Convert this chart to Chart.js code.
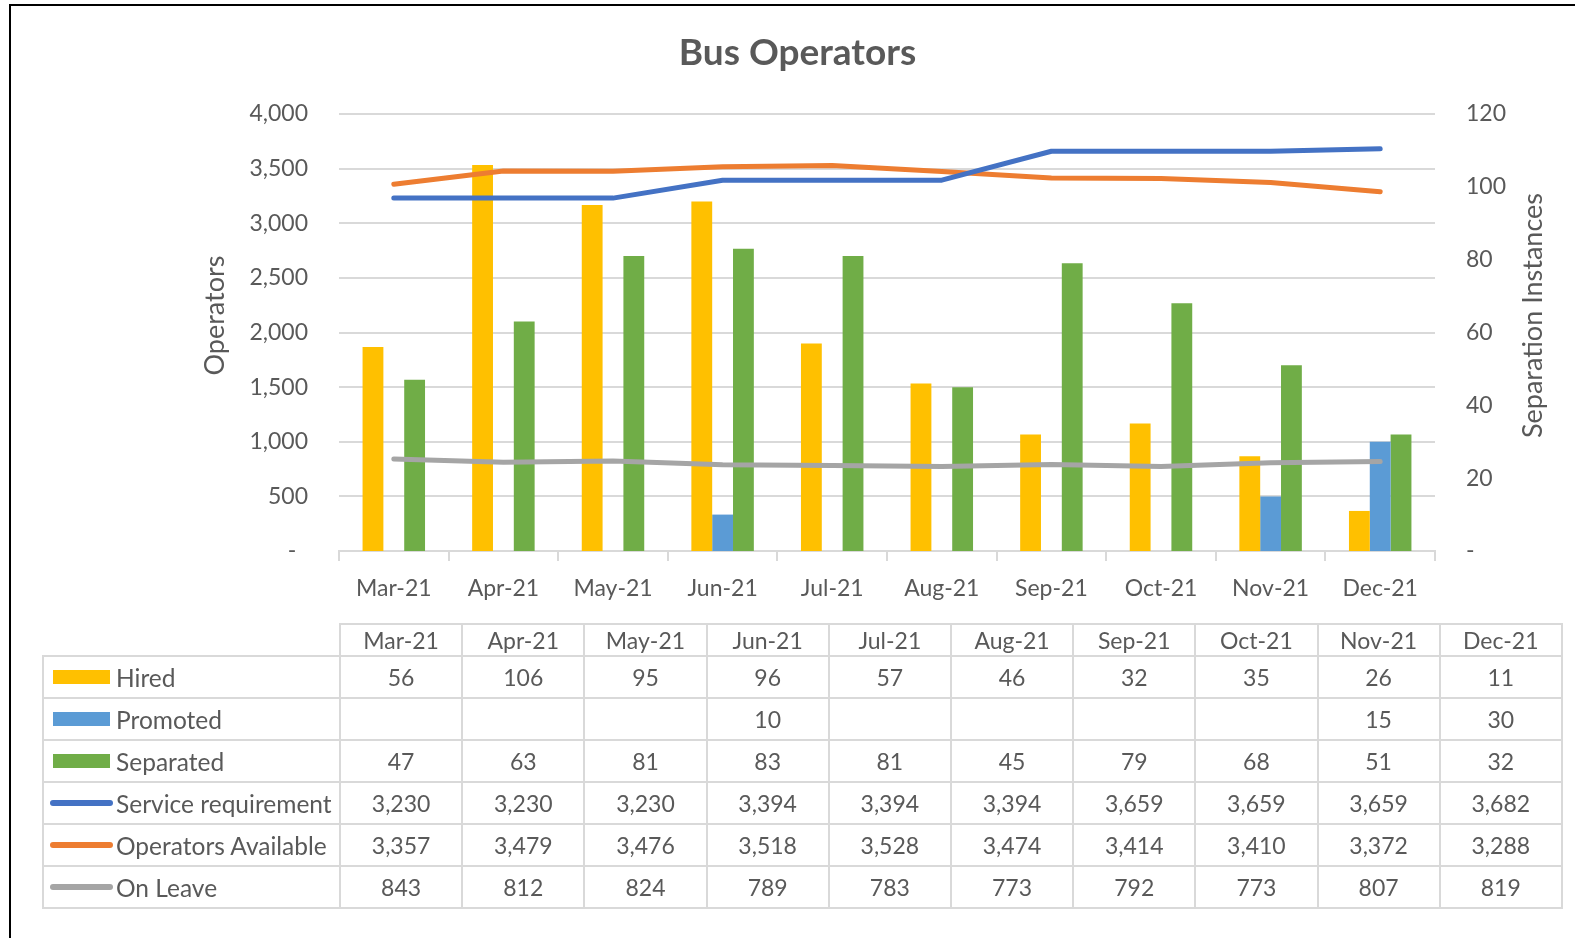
<!DOCTYPE html>
<html>
<head>
<meta charset="utf-8">
<title>Bus Operators</title>
<script src="https://cdn.jsdelivr.net/npm/chart.js@4.4.1/dist/chart.umd.min.js"></script>
<style>
  body { margin: 0; background: #fff; font-family: Lato, sans-serif; }
  #wrap { position: relative; width: 1575px; height: 938px; overflow: hidden; background: #fff; }
  #frame { position: absolute; left: 9px; top: 4px; right: -10px; bottom: -10px;
           border-left: 2px solid #000; border-top: 2px solid #000; pointer-events: none; }
  #chart { position: absolute; left: 0; top: 0; }
  #tbl { position: absolute; left: 42px; top: 623px; border-collapse: collapse;
         table-layout: fixed; color: #595959; font-size: 23px; }
  #tbl td { border: 2px solid #d9d9d9; text-align: center; padding: 0; white-space: nowrap; }
  #tbl tr { height: 42px; }
  #tbl tr.head { height: 32px; }
  #tbl td.blank { border-top: none; border-left: none; }
  #tbl td.name { text-align: left; font-size: 24.5px; }
  .cell { display: flex; align-items: center; }
  .sw-bar { width: 57px; height: 14px; margin: 0 6px 0 9px; }
  .sw-line { width: 63px; height: 6px; border-radius: 3px; margin: 0 3px 0 6px; }
</style>
</head>
<body>
<div id="wrap">
  <canvas id="chart" width="1575" height="938"></canvas>
  <table id="tbl"></table>
  <div id="frame"></div>
</div>
<script>
// data
const months = ['Mar-21', 'Apr-21', 'May-21', 'Jun-21', 'Jul-21', 'Aug-21', 'Sep-21', 'Oct-21', 'Nov-21', 'Dec-21'];
const hired = [56, 106, 95, 96, 57, 46, 32, 35, 26, 11];
const promoted = [null, null, null, 10, null, null, null, null, 15, 30];
const separated = [47, 63, 81, 83, 81, 45, 79, 68, 51, 32];
const serviceReq = [3230, 3230, 3230, 3394, 3394, 3394, 3659, 3659, 3659, 3682];
const available = [3357, 3479, 3476, 3518, 3528, 3474, 3414, 3410, 3372, 3288];
const onLeave = [843, 812, 824, 789, 783, 773, 792, 773, 807, 819];

const textColor = '#595959';
const gridColor = '#d9d9d9';

// rows of the data table and series of the chart
const series = [
  { label: 'Hired', data: hired, color: '#FFC000', kind: 'bar' },
  { label: 'Promoted', data: promoted, color: '#5B9BD5', kind: 'bar' },
  { label: 'Separated', data: separated, color: '#70AD47', kind: 'bar' },
  { label: 'Service requirement', data: serviceReq, color: '#4472C4', kind: 'line' },
  { label: 'Operators Available', data: available, color: '#ED7D31', kind: 'line' },
  { label: 'On Leave', data: onLeave, color: '#A5A5A5', kind: 'line' }
];

const fmt = v => (v === null || v === undefined) ? '' : v.toLocaleString('en-US');

// build the table under the chart
function buildTable() {
  const tbl = document.getElementById('tbl');
  let html = '<colgroup><col style="width:297px">';
  months.forEach(() => { html += '<col style="width:122.2px">'; });
  html += '</colgroup><tr class="head"><td class="blank"></td>';
  months.forEach(m => { html += '<td>' + m + '</td>'; });
  html += '</tr>';
  series.forEach(s => {
    const sw = s.kind === 'bar' ? 'sw-bar' : 'sw-line';
    html += '<tr><td class="name"><div class="cell"><span class="' + sw + '" style="background:' + s.color + '"></span>' + s.label + '</div></td>';
    s.data.forEach(v => { html += '<td>' + fmt(v) + '</td>'; });
    html += '</tr>';
  });
  tbl.innerHTML = html;
}

// axis titles, both read bottom-to-top like the original
const axisTitles = {
  id: 'axisTitles',
  afterDraw(chart) {
    const { ctx, chartArea, scales } = chart;
    const midY = (chartArea.top + chartArea.bottom) / 2 - 17;
    ctx.save();
    ctx.fillStyle = textColor;
    ctx.font = '27px Lato';
    ctx.textAlign = 'center';
    ctx.textBaseline = 'middle';
    [[scales.y.left + 195, 'Operators'], [scales.y1.left + 98, 'Separation Instances']].forEach(([x, t]) => {
      ctx.save();
      ctx.translate(x, midY);
      ctx.rotate(-Math.PI / 2);
      ctx.fillText(t, 0, 0);
      ctx.restore();
    });
    ctx.restore();
  }
};

function renderChart() {
  const datasets = [];
  // lines first so they sit on top of the bars
  series.filter(s => s.kind === 'line').forEach(s => {
    datasets.push({
      type: 'line',
      label: s.label,
      data: s.data,
      borderColor: s.color,
      backgroundColor: s.color,
      borderWidth: 5,
      borderCapStyle: 'round',
      borderJoinStyle: 'round',
      pointRadius: 0,
      tension: 0,
      yAxisID: 'y',
      order: 0
    });
  });
  series.filter(s => s.kind === 'bar').forEach(s => {
    datasets.push({
      type: 'bar',
      label: s.label,
      data: s.data,
      backgroundColor: s.color,
      borderWidth: 0,
      categoryPercentage: 0.57,
      barPercentage: 1,
      yAxisID: 'y1',
      order: 1
    });
  });

  new Chart(document.getElementById('chart'), {
    data: { labels: months, datasets: datasets },
    options: {
      responsive: false,
      animation: false,
      devicePixelRatio: 1,
      layout: { padding: { left: 20, right: 0, top: 0, bottom: 327 } },
      plugins: {
        legend: { display: false },
        tooltip: { enabled: false },
        title: {
          display: true,
          text: 'Bus Operators',
          color: textColor,
          font: { family: 'Lato', size: 37, weight: 'bold' },
          padding: { top: 31, bottom: 38.6 }
        }
      },
      scales: {
        x: {
          offset: true,
          grid: { offset: true, drawOnChartArea: false, drawTicks: true, tickLength: 10, color: gridColor, lineWidth: 2 },
          border: { display: true, color: gridColor, width: 2 },
          ticks: { color: textColor, font: { family: 'Lato', size: 23 }, padding: 14, maxRotation: 0, autoSkip: false },
          afterFit(scale) { scale.height = 60; }
        },
        y: {
          position: 'left',
          min: 0, max: 4000,
          ticks: { stepSize: 500, color: textColor, font: { family: 'Lato', size: 23 }, padding: 31,
                   callback: v => v === 0 ? '-  ' : v.toLocaleString('en-US') },
          grid: { drawTicks: false, color: gridColor, lineWidth: 2 },
          border: { display: false },
          afterFit(scale) { scale.width = 319; }
        },
        y1: {
          position: 'right',
          min: 0, max: 120,
          ticks: { stepSize: 20, color: textColor, font: { family: 'Lato', size: 23 }, padding: 31,
                   callback: v => v === 0 ? '-' : v },
          grid: { display: false, drawTicks: false },
          border: { display: false },
          afterFit(scale) { scale.width = 140; }
        }
      }
    },
    plugins: [axisTitles]
  });
}

buildTable();
renderChart();
</script>
</body>
</html>
